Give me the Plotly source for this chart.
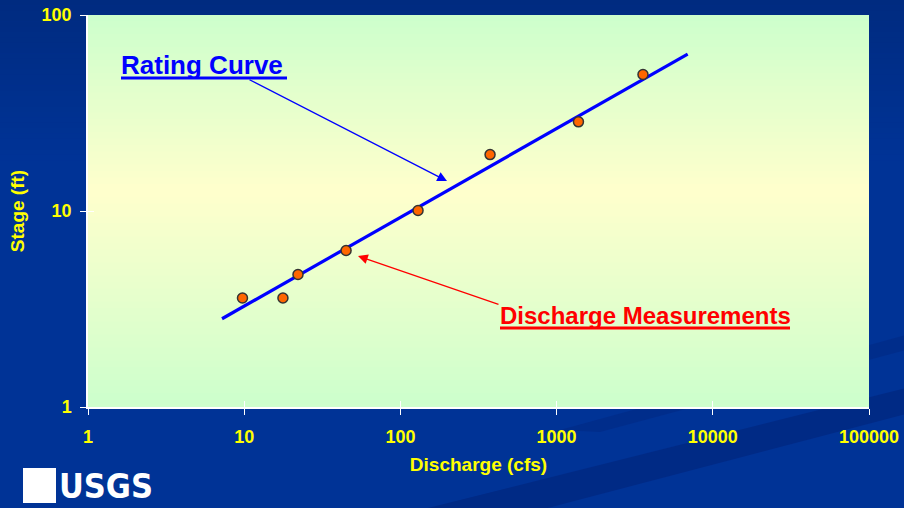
import plotly.graph_objects as go

# ---- data ----
meas_discharge = [9.75, 17.7, 22.1, 44.9, 129.7, 375, 1380, 3573]
meas_stage = [3.60, 3.60, 4.74, 6.29, 10.06, 19.4, 28.5, 49.7]
curve_discharge = [7.21, 6904]
curve_stage = [2.82, 63.2]
x_ticks = [1, 10, 100, 1000, 10000, 100000]
x_ticktext = ["1", "10", "100", "1000", "10000", "100000"]
y_ticks = [1, 10, 100]
y_ticktext = ["1", "10", "100"]

W, H = 904, 508
L, R, T, B = 88, 869, 15, 407


def px(X):
    return (X - L) / (R - L)


def py(Y):
    return (B - Y) / (B - T)


def lerp(c1, c2, t):
    return "rgb(%d,%d,%d)" % tuple(round(a + (b - a) * t) for a, b in zip(c1, c2))


FONT = "Liberation Sans, Arial, sans-serif"
YELLOW = "#FFFF00"

fig = go.Figure()
fig.add_trace(go.Scatter(x=curve_discharge, y=curve_stage, mode="lines",
                         line=dict(color="#0000FF", width=3.2), hoverinfo="skip"))
# markers on the overlaying axes (same ranges) so they draw above the line
fig.add_trace(go.Scatter(x=meas_discharge, y=meas_stage, mode="markers",
                         xaxis="x2", yaxis="y2",
                         marker=dict(color="#FF6600", size=10,
                                     line=dict(color="#333333", width=1.5))))

shapes = []
# slide background gradient (top darker)
n = 30
for i in range(n):
    y0 = i * 160 / n
    y1 = (i + 1) * 160 / n + 0.5
    shapes.append(dict(type="rect", xref="paper", yref="paper", layer="below",
                       x0=px(-2), x1=px(W + 2), y0=py(y0 - (2 if i == 0 else 0)), y1=py(y1),
                       line=dict(width=0),
                       fillcolor=lerp((0, 43, 128), (0, 51, 150), i / (n - 1))))
# swoosh bands bottom right
shapes.append(dict(type="path", xref="paper", yref="paper", layer="below",
                   path="M %f,%f L %f,%f L %f,%f L %f,%f Z" % (
                       px(420), py(510), px(906), py(388), px(906), py(414), px(540), py(510)),
                   fillcolor="rgba(0,35,120,0.55)", line=dict(width=0)))
shapes.append(dict(type="path", xref="paper", yref="paper", layer="below",
                   path="M %f,%f L %f,%f L %f,%f L %f,%f Z" % (
                       px(560), py(430), px(906), py(335), px(906), py(350), px(600), py(432)),
                   fillcolor="rgba(0,35,120,0.35)", line=dict(width=0)))
# plot area gradient: green -> yellow -> green
green = (204, 255, 204)
yellow = (255, 255, 204)
nb = 60
peak = 0.45
for i in range(nb):
    f0 = i / nb
    f1 = (i + 1) / nb
    fm = (f0 + f1) / 2  # fraction from top
    if fm < peak:
        c = lerp(green, yellow, fm / peak)
    else:
        c = lerp(yellow, green, (fm - peak) / (1 - peak))
    shapes.append(dict(type="rect", xref="paper", yref="paper", layer="below",
                       x0=0, x1=1, y0=min(1, 1 - f0 + 0.002), y1=max(0, 1 - f1 - 0.002),
                       line=dict(width=0), fillcolor=c))
# underlines
shapes.append(dict(type="line", xref="paper", yref="paper", x0=px(121), x1=px(287),
                   y0=py(78), y1=py(78), line=dict(color="#0000FF", width=3)))
shapes.append(dict(type="line", xref="paper", yref="paper", x0=px(500), x1=px(790),
                   y0=py(328), y1=py(328), line=dict(color="#FF0000", width=3)))
# USGS logo block
shapes.append(dict(type="rect", xref="paper", yref="paper", x0=px(23), x1=px(56),
                   y0=py(468), y1=py(503), fillcolor="white", line=dict(width=0)))

annotations = [
    dict(text="Rating Curve", xref="paper", yref="paper", x=px(119), y=py(65),
         xanchor="left", yanchor="middle", showarrow=False,
         font=dict(family=FONT, size=26, color="#0000FF", weight="bold")),
    dict(text="Discharge Measurements", xref="paper", yref="paper", x=px(498), y=py(315),
         xanchor="left", yanchor="middle", showarrow=False,
         font=dict(family=FONT, size=24, color="#FF0000", weight="bold")),
    dict(text="", xref="paper", yref="paper", x=px(447), y=py(181), ax=248 - 447, ay=79 - 181,
         showarrow=True, arrowhead=2, arrowsize=1.5, arrowwidth=1.3, arrowcolor="#0000FF",
         standoff=0),
    dict(text="", xref="paper", yref="paper", x=px(358), y=py(256), ax=500 - 358, ay=305 - 256,
         showarrow=True, arrowhead=2, arrowsize=1.5, arrowwidth=1.3, arrowcolor="#FF0000",
         standoff=0),
    dict(text="USGS", xref="paper", yref="paper", x=px(57), y=py(486), xanchor="left",
         yanchor="middle", showarrow=False,
         font=dict(family="Liberation Sans Narrow, DejaVu Sans Condensed, Arial Narrow, sans-serif",
                   size=34, color="white", weight="bold")),
]

axis_font = dict(family=FONT, size=18, color=YELLOW, weight="bold")

fig.update_layout(
    width=W, height=H,
    margin=dict(l=L, r=W - R, t=T, b=H - B, autoexpand=False),
    paper_bgcolor="#003396",
    plot_bgcolor="rgba(0,0,0,0)",
    showlegend=False,
    shapes=shapes,
    annotations=annotations,
    xaxis=dict(type="log", range=[0, 5], tickvals=x_ticks, ticktext=x_ticktext,
               showgrid=False, zeroline=False, showline=True, linecolor="white", linewidth=1.5,
               ticks="outside", ticklen=6, tickcolor="white", tickwidth=1.2,
               tickfont=axis_font, ticklabelstandoff=7, automargin=False,
               title=dict(text="Discharge (cfs)", font=dict(family=FONT, size=19, color=YELLOW,
                                                            weight="bold"), standoff=11)),
    yaxis=dict(type="log", range=[0, 2], tickvals=y_ticks, ticktext=y_ticktext,
               showgrid=False, zeroline=False, showline=True, linecolor="white", linewidth=1.5,
               ticks="outside", ticklen=6, tickcolor="white", tickwidth=1.2,
               tickfont=axis_font, ticklabelstandoff=5, automargin=False,
               title=dict(text="Stage (ft)", font=dict(family=FONT, size=19, color=YELLOW,
                                                       weight="bold"), standoff=12)),
    xaxis2=dict(type="log", range=[0, 5], overlaying="x", anchor="y", side="bottom",
                tickvals=x_ticks, showticklabels=False, ticks="inside", ticklen=6,
                tickcolor="white", tickwidth=1.2, showgrid=False, zeroline=False, showline=False,
                automargin=False),
    yaxis2=dict(type="log", range=[0, 2], overlaying="y", anchor="x", side="left",
                tickvals=y_ticks, showticklabels=False, ticks="inside", ticklen=6,
                tickcolor="white", tickwidth=1.2, showgrid=False, zeroline=False, showline=False,
                automargin=False),
)

fig.write_html("out.html", config={"displayModeBar": False},
               post_script="document.body.style.margin='0';")
